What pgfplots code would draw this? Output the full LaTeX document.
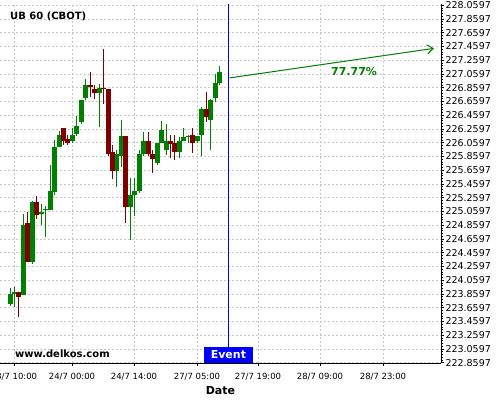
\documentclass[border=0pt]{standalone}
\usepackage{fontspec}
\setmainfont{DejaVu Sans}
\usepackage{pgfplots}
\pgfplotsset{compat=1.18}
\usepackage{pgfplotstable}
\usetikzlibrary{arrows.meta}

\definecolor{cgreen}{RGB}{0,128,0}
\definecolor{cred}{RGB}{128,0,0}
\definecolor{cgrid}{RGB}{200,200,200}

% candles: index, open, high, low, close
\pgfplotstableread{
i  o      h      l      c
1  223.71 223.95 223.69 223.86
2  223.86 223.96 223.67 223.89
4  223.84 225.02 223.84 224.86
6  224.33 225.21 224.30 225.19
8  225.02 225.17 224.86 225.05
9  225.08 225.14 224.69 225.10
10 225.08 225.74 225.08 225.36
11 225.34 226.10 225.30 226.00
12 226.00 226.23 226.00 226.17
15 226.08 226.27 226.05 226.17
16 226.18 226.45 226.15 226.30
17 226.36 226.68 226.33 226.68
18 226.71 226.98 226.68 226.90
21 226.78 226.92 226.29 226.86
25 225.65 225.95 225.42 225.90
26 225.87 226.39 225.71 226.15
28 225.12 225.54 224.65 225.30
29 225.30 225.54 224.99 225.36
30 225.36 225.95 225.33 225.90
31 225.90 226.21 225.87 226.08
34 225.77 226.05 225.74 226.05
35 226.05 226.38 226.05 226.24
36 225.95 226.33 225.88 226.08
39 225.93 226.14 225.83 226.08
40 226.08 226.27 226.08 226.14
41 226.14 226.17 226.05 226.16
43 226.08 226.15 226.05 226.15
44 226.17 226.58 225.86 226.55
46 226.39 226.70 225.95 226.68
47 226.71 227.06 226.65 226.93
48 226.93 227.17 226.89 227.09
}\greencandles

\pgfplotstableread{
i  o      h      l      c
3  223.89 223.89 223.52 223.81
5  224.89 225.05 224.33 224.33
7  225.19 225.29 224.95 225.00
13 226.27 226.27 226.02 226.09
14 226.11 226.17 226.03 226.06
19 226.90 227.08 226.73 226.87
20 226.84 226.90 226.70 226.78
22 226.86 227.42 226.62 226.84
23 226.84 226.84 225.86 225.90
24 225.92 226.02 225.53 225.65
27 226.15 226.15 224.89 225.12
32 226.08 226.21 225.86 225.90
33 225.90 225.95 225.62 225.82
37 226.08 226.17 225.83 226.04
38 226.06 226.17 225.81 225.93
42 226.17 226.27 225.91 226.06
45 226.55 226.79 226.36 226.44
}\redcandles

\pgfplotsset{
  wick/.style={draw=none, mark=none,
    error bars/.cd, y dir=both, y explicit, error mark=none,
    error bar style={draw=#1, line width=1pt}},
  body/.style={draw=none, mark=none,
    error bars/.cd, y dir=both, y explicit, error mark=none,
    error bar style={draw=#1, line width=5pt}},
}

\begin{document}
\begin{tikzpicture}
\begin{axis}[
  scale only axis,
  width=441pt, height=359pt,
  xmin=-1.244, xmax=97.70,
  ymin=222.855, ymax=228.075,
  axis x line*=bottom, axis y line*=right,
  axis line style={black, line width=0.8pt},
  xtick={1.90,14.91,28.82,42.96,56.64,70.55,84.69},
  xticklabels={23/7 10:00,24/7 00:00,24/7 14:00,27/7 05:00,27/7 19:00,28/7 09:00,28/7 23:00},
  ytick={222.8597,223.0597,223.2597,223.4597,223.6597,223.8597,224.0597,224.2597,224.4597,224.6597,224.8597,225.0597,225.2597,225.4597,225.6597,225.8597,226.0597,226.2597,226.4597,226.6597,226.8597,227.0597,227.2597,227.4597,227.6597,227.8597,228.0597},
  yticklabels={222.8597,223.0597,223.2597,223.4597,223.6597,223.8597,224.0597,224.2597,224.4597,224.6597,224.8597,225.0597,225.2597,225.4597,225.6597,225.8597,226.0597,226.2597,226.4597,226.6597,226.8597,227.0597,227.2597,227.4597,227.6597,227.8597,228.0597},
  grid=major,
  major grid style={cgrid, dash pattern=on 2pt off 2pt, line width=0.6pt},
  tick align=outside,
  major tick length=3pt, minor tick length=1.5pt,
  minor y tick num=4, minor x tick num=1,
  tick style={black, line width=0.5pt},
  yticklabel style={font=\fontsize{9.5}{10}\selectfont, xshift=-2pt},
  xticklabel style={font=\fontsize{8.5}{10}\selectfont, yshift=-4pt},
  xlabel={Date},
  xlabel style={font=\bfseries\fontsize{11}{12}\selectfont, yshift=1pt},
]
\coordinate (bl) at (rel axis cs:0,0);
\coordinate (tr) at (rel axis cs:1,1);

% wicks
\addplot[wick=cgreen] table[x=i, y expr={(\thisrow{h}+\thisrow{l})/2},
  y error expr={max((\thisrow{h}-\thisrow{l})/2,0.004)}] {\greencandles};
\addplot[wick=cred] table[x=i, y expr={(\thisrow{h}+\thisrow{l})/2},
  y error expr={max((\thisrow{h}-\thisrow{l})/2,0.004)}] {\redcandles};
% bodies
\addplot[body=cgreen] table[x=i, y expr={(\thisrow{o}+\thisrow{c})/2},
  y error expr={max(abs(\thisrow{c}-\thisrow{o})/2,0.007)}] {\greencandles};
\addplot[body=cred] table[x=i, y expr={(\thisrow{o}+\thisrow{c})/2},
  y error expr={max(abs(\thisrow{c}-\thisrow{o})/2,0.007)}] {\redcandles};

% event line
\addplot[blue, line width=1pt] coordinates {(50,222.855) (50,228.075)};
% forecast arrow
\addplot[cgreen, line width=1pt, -{Straight Barb[length=6pt,width=9pt]}]
  coordinates {(50.25,227.00) (96.13,227.43)};

\node[text=cgreen, font=\bfseries\fontsize{11}{12}\selectfont] at (axis cs:78.2,227.10) {77.77\%};
\node[anchor=west, inner sep=0pt, font=\bfseries\fontsize{10}{12}\selectfont] at (axis cs:1,227.89) {UB 60 (CBOT)};
\node[anchor=west, inner sep=0pt, font=\bfseries\fontsize{10}{12}\selectfont] at (axis cs:2.12,222.99) {www.delkos.com};
\node[fill=blue, text=white, inner sep=0pt, minimum width=49pt, minimum height=15.5pt,
  anchor=south, font=\bfseries\fontsize{11}{12}\selectfont] at (axis cs:50,222.855) {Event};
\end{axis}
\pgfresetboundingbox
\path ([shift={(0pt,-37pt)}]bl) rectangle ([shift={(59pt,4pt)}]tr);
\end{tikzpicture}
\end{document}
